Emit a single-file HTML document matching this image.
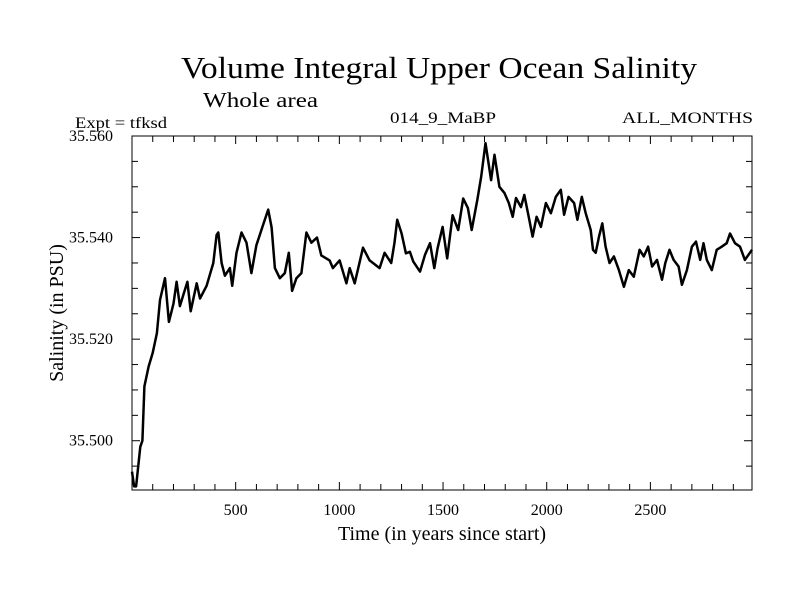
<!DOCTYPE html>
<html><head><meta charset="utf-8"><style>
html,body{margin:0;padding:0;background:#fff;}
svg{display:block;font-family:"Liberation Serif",serif;}
</style></head><body>
<svg id="chart" width="800" height="600" viewBox="0 0 800 600" xmlns="http://www.w3.org/2000/svg">
<rect width="800" height="600" fill="#fff"/>
<text x="181" y="78" font-size="31" textLength="516" lengthAdjust="spacingAndGlyphs">Volume Integral Upper Ocean Salinity</text>
<text x="203" y="107" font-size="21" textLength="115" lengthAdjust="spacingAndGlyphs">Whole area</text>
<text x="75" y="128" font-size="16" textLength="92" lengthAdjust="spacingAndGlyphs">Expt = tfksd</text>
<text x="390" y="123" font-size="16" textLength="106" lengthAdjust="spacingAndGlyphs">014_9_MaBP</text>
<text x="622" y="123" font-size="16" textLength="131" lengthAdjust="spacingAndGlyphs">ALL_MONTHS</text>
<g id="axes"></g>
<text x="442" y="540" font-size="20" text-anchor="middle">Time (in years since start)</text>
<text x="0" y="0" font-size="20" text-anchor="middle" transform="translate(63,313) rotate(-90)">Salinity (in PSU)</text>
</svg>
<script>
const years = [0,10,20,40,50,60,80,100,120,135,159,178,200,215,231,250,267,283,312,328,360,392,408,416,432,448,472,483,504,528,552,576,600,632,657,673,689,713,737,756,772,793,817,841,865,892,913,953,969,1001,1034,1050,1074,1114,1146,1194,1218,1250,1266,1279,1300,1321,1340,1356,1389,1413,1437,1458,1474,1498,1520,1546,1573,1597,1620,1638,1665,1684,1705,1732,1748,1772,1796,1817,1836,1852,1876,1892,1916,1932,1951,1972,1996,2020,2044,2068,2084,2105,2132,2148,2169,2188,2212,2223,2236,2252,2268,2284,2303,2324,2348,2372,2396,2420,2448,2468,2489,2508,2532,2556,2572,2592,2612,2636,2652,2676,2700,2720,2740,2756,2772,2796,2820,2844,2868,2884,2908,2932,2956,2990];
const salinity = [35.4939,35.491,35.491,35.4988,35.500,35.5107,35.5146,35.5173,35.5212,35.5277,35.532,35.5234,35.527,35.5313,35.5265,35.529,35.5313,35.5255,35.531,35.528,35.5305,35.535,35.5405,35.541,35.535,35.5325,35.534,35.5305,35.537,35.541,35.539,35.533,35.5385,35.5425,35.5455,35.542,35.534,35.532,35.533,35.537,35.5295,35.532,35.533,35.541,35.539,35.540,35.5365,35.5355,35.534,35.5355,35.531,35.534,35.531,35.538,35.5355,35.534,35.537,35.535,35.539,35.5435,35.5408,35.5369,35.5372,35.5353,35.5333,35.5366,35.5389,35.534,35.5379,35.5421,35.5359,35.5444,35.5415,35.5477,35.5458,35.5415,35.5474,35.552,35.5586,35.5513,35.5563,35.550,35.5488,35.5468,35.5441,35.5478,35.546,35.5484,35.5435,35.5402,35.5441,35.5421,35.5468,35.5448,35.548,35.5494,35.5445,35.548,35.5468,35.5435,35.548,35.5448,35.5415,35.5376,35.537,35.5402,35.5428,35.5382,35.535,35.5363,35.5336,35.5303,35.5336,35.5323,35.5376,35.5363,35.5382,35.5343,35.5356,35.5317,35.535,35.5376,35.5356,35.5343,35.5307,35.5336,35.5382,35.5392,35.5356,35.5389,35.5356,35.5336,35.5376,35.5382,35.5389,35.5408,35.5389,35.5382,35.5356,35.5376];
const xTickLabels = [500,1000,1500,2000,2500];
const yTickLabels = ["35.500","35.520","35.540","35.560"];

const L=132,R=752,T=136,B=490, X0=0,X1=2990, Y0=35.4903,Y1=35.560;
const xs=v=>L+(v-X0)/(X1-X0)*(R-L);
const ys=v=>B-(v-Y0)/(Y1-Y0)*(B-T);
const NS="http://www.w3.org/2000/svg";
const g=document.getElementById('axes');
function mk(t,a){const e=document.createElementNS(NS,t);for(const k in a)e.setAttribute(k,a[k]);g.appendChild(e);return e;}

const frame=mk('rect',{x:L,y:T,width:R-L,height:B-T,fill:'none',stroke:'#000','stroke-width':1});



for(let v=100;v<X1;v+=100){
  const x=xs(v),len=(v%500===0)?8:6;
  const t1=mk('line',{x1:x,y1:B,x2:x,y2:B-len,stroke:'#000'});
  
  
  const t2=mk('line',{x1:x,y1:T,x2:x,y2:T+len,stroke:'#000'});
  
  
}
xTickLabels.forEach(v=>{
  const t=mk('text',{x:xs(v),y:515,'font-size':16,'text-anchor':'middle'});
  t.textContent=v;
  
  
});
for(let k=0;k<14;k++){
  const v=35.495+k*0.005; if(v>Y1+1e-6)break;
  const y=ys(v),len=(Math.round(v*1000)%20===0)?8:6;
  const t1=mk('line',{x1:L,y1:y,x2:L+len,y2:y,stroke:'#000'});
  
  
  const t2=mk('line',{x1:R,y1:y,x2:R-len,y2:y,stroke:'#000'});
  
  
}
yTickLabels.forEach(s=>{
  const t=mk('text',{x:113,y:ys(parseFloat(s))+5,'font-size':16,'text-anchor':'end'});
  t.textContent=s;
  
  
});
const d=years.map((v,i)=>(i?'L':'M')+xs(v).toFixed(1)+','+ys(salinity[i]).toFixed(1)).join('');
const line=mk('path',{d:d,fill:'none',stroke:'#000','stroke-width':2.5,'stroke-linejoin':'round'});


</script>
</body></html>
